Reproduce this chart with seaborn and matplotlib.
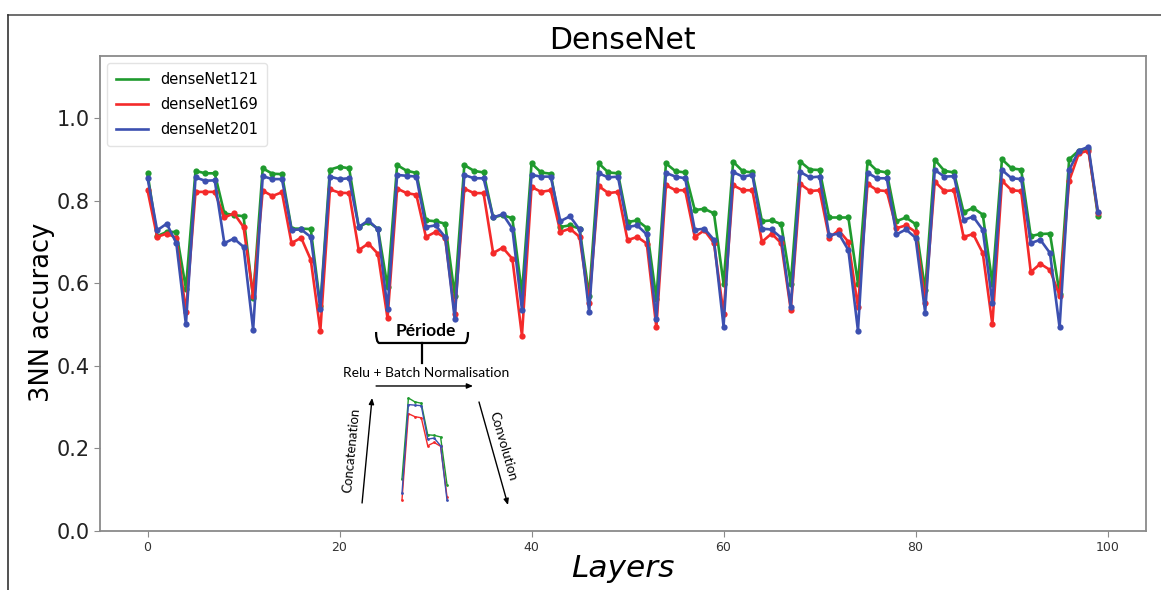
import numpy as np
import pandas as pd
import matplotlib
matplotlib.use("Agg")
import matplotlib.pyplot as plt
import seaborn as sns
from matplotlib.lines import Line2D
from matplotlib.path import Path
from matplotlib.patches import PathPatch

# ---------------- data ----------------
series_names = ["denseNet121", "denseNet169", "denseNet201"]
series_colors = ["#1f9a2e", "#f42a2a", "#3c50b0"]

dense121 = [0.866, 0.714, 0.724, 0.724, 0.587, 0.872, 0.866, 0.866, 0.769, 0.765,
            0.762, 0.565, 0.878, 0.865, 0.864, 0.732, 0.732, 0.731, 0.545, 0.875,
            0.882, 0.878, 0.736, 0.748, 0.732, 0.591, 0.886, 0.872, 0.867, 0.752,
            0.750, 0.744, 0.570, 0.886, 0.872, 0.868, 0.759, 0.765, 0.757, 0.575,
            0.890, 0.868, 0.865, 0.736, 0.740, 0.732, 0.570, 0.890, 0.868, 0.866,
            0.748, 0.752, 0.734, 0.562, 0.890, 0.871, 0.868, 0.777, 0.780, 0.769,
            0.599, 0.894, 0.871, 0.868, 0.750, 0.752, 0.743, 0.599, 0.894, 0.875,
            0.874, 0.759, 0.759, 0.759, 0.599, 0.894, 0.872, 0.868, 0.750, 0.759,
            0.743, 0.583, 0.899, 0.872, 0.868, 0.772, 0.782, 0.766, 0.599, 0.900,
            0.878, 0.875, 0.714, 0.719, 0.720, 0.575, 0.900, 0.921, 0.926, 0.762]

dense169 = [0.825, 0.712, 0.720, 0.710, 0.530, 0.821, 0.821, 0.821, 0.759, 0.769,
            0.736, 0.570, 0.824, 0.811, 0.820, 0.697, 0.710, 0.657, 0.485, 0.827,
            0.819, 0.818, 0.680, 0.696, 0.671, 0.515, 0.829, 0.818, 0.814, 0.712,
            0.724, 0.710, 0.526, 0.829, 0.818, 0.818, 0.673, 0.686, 0.659, 0.473,
            0.833, 0.821, 0.825, 0.724, 0.732, 0.712, 0.552, 0.835, 0.818, 0.821,
            0.704, 0.712, 0.696, 0.493, 0.837, 0.825, 0.825, 0.712, 0.728, 0.697,
            0.526, 0.837, 0.825, 0.825, 0.700, 0.720, 0.697, 0.536, 0.840, 0.823,
            0.825, 0.710, 0.728, 0.700, 0.542, 0.840, 0.825, 0.823, 0.733, 0.740,
            0.724, 0.553, 0.846, 0.823, 0.825, 0.712, 0.719, 0.673, 0.500, 0.848,
            0.825, 0.823, 0.627, 0.647, 0.632, 0.570, 0.848, 0.914, 0.921, 0.769]

dense201 = [0.855, 0.728, 0.744, 0.697, 0.500, 0.856, 0.848, 0.849, 0.697, 0.708,
            0.688, 0.487, 0.859, 0.852, 0.852, 0.729, 0.730, 0.712, 0.538, 0.858,
            0.852, 0.854, 0.736, 0.752, 0.730, 0.538, 0.862, 0.860, 0.858, 0.736,
            0.740, 0.712, 0.514, 0.862, 0.854, 0.854, 0.759, 0.767, 0.732, 0.536,
            0.862, 0.858, 0.858, 0.750, 0.762, 0.730, 0.530, 0.866, 0.856, 0.858,
            0.736, 0.740, 0.718, 0.514, 0.867, 0.858, 0.854, 0.729, 0.732, 0.705,
            0.495, 0.869, 0.858, 0.862, 0.732, 0.730, 0.710, 0.542, 0.869, 0.856,
            0.858, 0.716, 0.720, 0.680, 0.485, 0.867, 0.854, 0.854, 0.718, 0.730,
            0.710, 0.529, 0.874, 0.858, 0.859, 0.753, 0.761, 0.729, 0.553, 0.874,
            0.854, 0.852, 0.697, 0.705, 0.673, 0.493, 0.874, 0.921, 0.930, 0.772]

layers = list(range(len(dense121)))
period_start, period_end = 25, 32   # period shown in the small inset sketch

df = pd.DataFrame({
    "Layers": layers * 3,
    "acc": dense121 + dense169 + dense201,
    "model": [series_names[0]] * len(layers) + [series_names[1]] * len(layers)
             + [series_names[2]] * len(layers),
})

# ---------------- figure ----------------
W, H = 1161, 590
fig = plt.figure(figsize=(W / 100, H / 100), dpi=100)
ax = fig.add_axes([100 / W, 1 - 531 / H, (1145.5 - 100) / W, (531 - 56) / H])

sns.lineplot(data=df, x="Layers", y="acc", hue="model", hue_order=series_names,
             palette=series_colors, marker="o", markersize=4.5, markeredgewidth=0,
             linewidth=1.9, ax=ax, legend=False)

ax.set_ylim(0, 1.15)
ax.set_xlim(-4.95, 103.95)
ax.set_xticks([0, 20, 40, 60, 80, 100])
ax.set_yticks([0.0, 0.2, 0.4, 0.6, 0.8, 1.0])
ax.set_yticklabels(["0.0", "0.2", "0.4", "0.6", "0.8", "1.0"])
for s in ax.spines.values():
    s.set_color("#8a8a8a")
    s.set_linewidth(1.3)
ax.tick_params(axis="y", labelsize=15, colors="#8a8a8a", labelcolor="#222222", length=4)
ax.tick_params(axis="x", labelsize=9, colors="#8a8a8a", labelcolor="#333333", length=4)

ax.set_title("DenseNet", fontsize=21.5, pad=5)
ax.set_ylabel("3NN accuracy", fontsize=18.5)
ax.yaxis.set_label_coords(-0.043, 0.46)
ax.set_xlabel("Layers", fontsize=22.5, style="italic", labelpad=0)

# legend: plain line handles (no markers), as in the reference
handles = [Line2D([], [], color=c, lw=1.9) for c in series_colors]
leg = ax.legend(handles, series_names, loc="upper left", fontsize=10.5, handlelength=2.2,
                borderpad=0.6, labelspacing=0.7, bbox_to_anchor=(0.0, 1.0))
leg.get_frame().set_edgecolor("#dddddd")

# ---------------- screenshot frame ----------------
fy = 1 - 15 / H
fx = 7.5 / W
fig.add_artist(Line2D([fx, 1.0], [fy, fy], transform=fig.transFigure, color="#555555", lw=1.2))
fig.add_artist(Line2D([fx, fx], [0.0, fy], transform=fig.transFigure, color="#333333", lw=1.2))

# ---------------- annotation (pixel helpers) ----------------
def dx(px):
    return (px - 148.3) / 9.607

def dy(py):
    return (531 - py) / 413.0

annot_font = ["Lato", "DejaVu Sans"]

# brace
verts = [(dx(377), dy(332)), (dx(377), dy(342)), (dx(380), dy(343)),
         (dx(466), dy(343)), (dx(469), dy(342)), (dx(469), dy(332))]
codes = [Path.MOVETO, Path.CURVE3, Path.CURVE3, Path.LINETO, Path.CURVE3, Path.CURVE3]
ax.add_patch(PathPatch(Path(verts, codes), fill=False, lw=1.6, color="black"))
ax.plot([dx(423), dx(423)], [dy(343), dy(363)], color="black", lw=1.6)

ax.text(dx(427), dy(331), "Période", fontsize=12.5, fontweight="bold",
        ha="center", va="center", family=annot_font)
ax.text(dx(427), dy(373), "Relu + Batch Normalisation", fontsize=10,
        ha="center", va="center", family=annot_font)

arrow_kw = dict(arrowstyle="-|>,head_length=0.35,head_width=0.15", color="black", lw=1.0,
                shrinkA=0, shrinkB=0)
ax.annotate("", xy=(dx(474), dy(386)), xytext=(dx(377), dy(386)), arrowprops=arrow_kw)
ax.annotate("", xy=(dx(373), dy(398)), xytext=(dx(363), dy(503)), arrowprops=arrow_kw)
ax.annotate("", xy=(dx(509), dy(505)), xytext=(dx(480), dy(402)), arrowprops=arrow_kw)

ax.text(dx(352), dy(450), "Concatenation", fontsize=9.5, rotation=84.5,
        ha="center", va="center", family=annot_font)
ax.text(dx(504), dy(446), "Convolution", fontsize=9.5, rotation=-74,
        ha="center", va="center", family=annot_font)

# ---------------- inset sketch of one period ----------------
ins = fig.add_axes([400 / W, 1 - 505 / H, 49 / W, 110 / H])
ins.set_axis_off()
sl = slice(period_start, period_end + 1)
for vals, col in zip([dense121, dense169, dense201], series_colors):
    ins.plot(layers[sl], vals[sl], color=col, marker="o", markersize=2,
             markeredgewidth=0, lw=1.0)
ins.set_xlim(period_start - 0.31, period_end + 0.31)
ins.set_ylim(0.496, 0.897)

fig.savefig("out.png", dpi=100, facecolor="white")
